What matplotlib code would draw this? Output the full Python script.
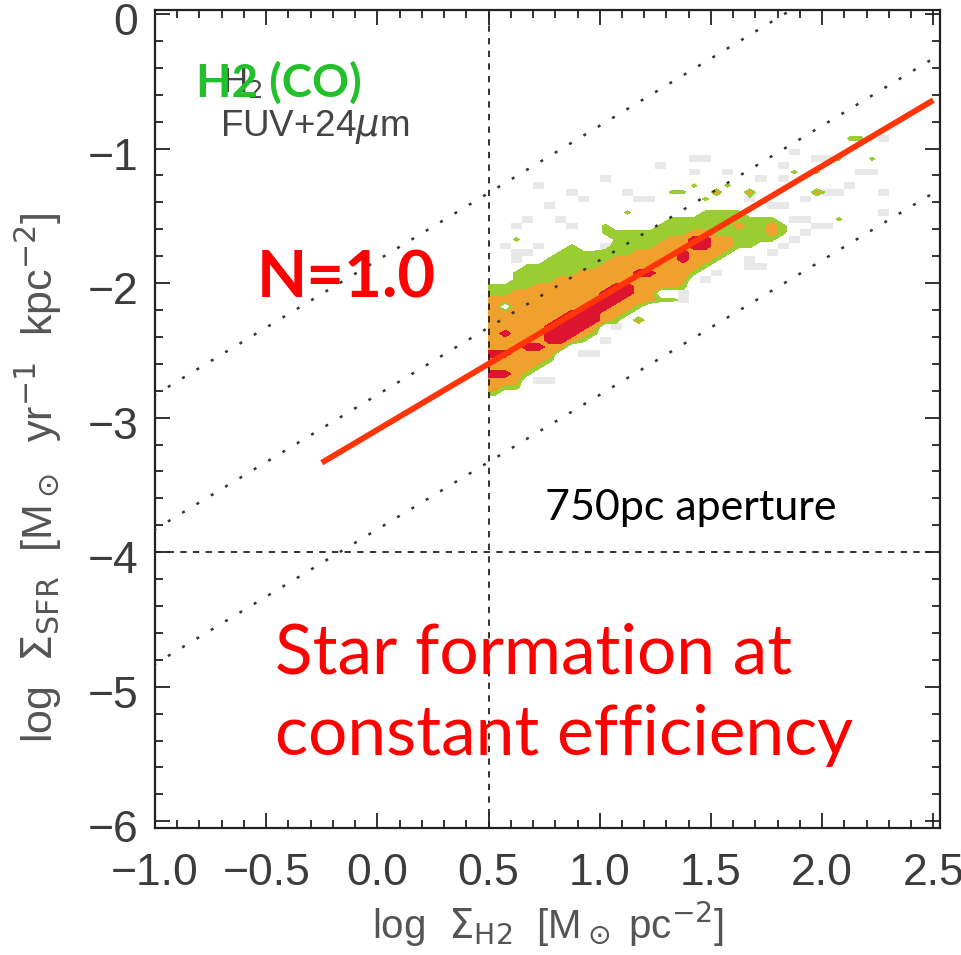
import numpy as np
import matplotlib
matplotlib.use("Agg")
import matplotlib.pyplot as plt
import matplotlib.transforms as mtrans
from matplotlib.colors import ListedColormap
from matplotlib.ticker import MultipleLocator, FuncFormatter
from matplotlib import font_manager

# pixel density map in 0.05 dex bins (top row first)
# '-' empty, 'x' few pixels (grey), 'g' green, 'o' orange, 'r' red contour
density_rows = [
    "------ ------ ------ ------ ------ ------",
    "------ ------ ------ ------ ------ --gg-x",
    "------ ------ ------ ------ ------ ------",
    "------ ------ ------ ------ ---x-- ------",
    "------ ------ ------ xx---- -----x xg--g-",
    "------ ------ ---x-- ------ --x--- ------",
    "------ ------ ------ x--x-- ---g-g ---xx-",
    "------ ----x- ------ ------ x-x--- ------",
    "----x- ------ ------ g--g-- ------ --x---",
    "------ -x---- x---gg --o--o -----o xx---x",
    "------ --x--- -xx--- -g---x ----x- ------",
    "-----x ------ ------ ------ -xx--- ------",
    "------ ------ g----- -gggg- ------ -----x",
    "---x-- x----- ----gg gggggg gg-xx- -g----",
    "--x--- -x--g- ---ggg ggggog gog--x x-----",
    "------ ----gg gggggg oogggg gog-x- ------",
    "--g--- -----g ggggoo rroogg gg-x-- ------",
    "-x--x- -g--xg gggooo rroogg --x--- ------",
    "--xx-- gggggg goooor ooog-- -x---- ------",
    "--x--g gggggo ooooor oog--x ------ ------",
    "---ggg ggggoo oooooo og---x x----- ------",
    "--gggg ggoooo orrooo g-x--- ------ ------",
    "--gggg oooooo oooooo -x---- ------ ------",
    "ggggoo ooooor roooog ------ ------ ------",
    "ggoooo oooorr roo--x ------ ------ ------",
    "oooooo oooorr oooggx ------ ------ ------",
    "o-oooo ooorro og---- ------ ------ ------",
    "oooooo orrroo g----- ------ ------ ------",
    "oooooo rrrrog -o---- ------ ------ ------",
    "ooooor rrro-x ------ ------ ------ ------",
    "orooor rrog-- ------ ------ ------ ------",
    "ooooor rog-x- ------ ------ ------ ------",
    "ooorro o----- ------ ------ ------ ------",
    "rroooo --xx-- ------ ------ ------ ------",
    "ooooog ------ ------ ------ ------ ------",
    "oooog- ------ ------ ------ ------ ------",
    "rrog-- ------ ------ ------ ------ ------",
    "ooo-xx ------ ------ ------ ------ ------",
    "ogg--- ------ ------ ------ ------ ------",
    "g----- ------ ------ ------ ------ ------",
    "------ ------ ------ ------ ------ ------",
]
level_of = {"-": 0, "x": 1, "g": 2, "o": 3, "r": 4}
x_first = 0.525   # centre of the first bin
y_first = -0.875
bin_size = 0.05

# lines of constant efficiency: log SFR = log Sigma + offset
eff_offsets = [-1.83, -2.83, -3.83]
# fitted relation, N = 1.0
fit_slope = 0.98
fit_intercept = -3.09
fit_x = [-0.25, 2.5]

names = {f.name for f in font_manager.fontManager.ttflist}
tick_font = "Liberation Sans Narrow" if "Liberation Sans Narrow" in names else "Liberation Sans"
text_font = "Lato" if "Lato" in names else "DejaVu Sans"

W, H = 962, 955
fig = plt.figure(figsize=(W / 100, H / 100), dpi=100)
ax = fig.add_axes([155 / W, 1 - 828 / H, (940 - 155) / W, (828 - 10) / H])

grid = np.array([[level_of[c] for c in r.replace(" ", "")] for r in density_rows], dtype=float)
ny, nx = grid.shape
xc = x_first + bin_size * np.arange(nx)
yc = y_first - bin_size * np.arange(ny)

# grey blocks: bins with only a few pixels
xe = np.append(xc - bin_size / 2, xc[-1] + bin_size / 2)
ye = np.append(yc + bin_size / 2, yc[-1] - bin_size / 2)
grey = np.ma.masked_where(grid != 1, grid)
ax.pcolormesh(xe, ye, grey, cmap=ListedColormap(["#e8e8e8"]), shading="flat", zorder=1)

# filled contours; first column repeated at x=0.5 so the map reaches the cut
z = np.hstack([grid[:, :1], grid, np.zeros((ny, 1))])
z = np.vstack([np.zeros((1, nx + 2)), z, np.zeros((1, nx + 2))])
xz = np.concatenate([[0.5], xc, [xc[-1] + bin_size]])
yz = np.concatenate([[yc[0] + bin_size], yc, [yc[-1] - bin_size]])
ax.contourf(xz, yz[::-1], z[::-1], levels=[1.5, 2.5, 3.5, 4.5],
            colors=["#9acd32", "#f0a02c", "#dc1430"], zorder=2)

xx = np.array([-1.2, 2.7])
for off in eff_offsets:
    ax.plot(xx, xx + off, color="#333333", lw=1.8, ls=(0, (1.2, 5.5)), zorder=3)
ax.axvline(0.5, color="#222222", lw=1.3, ls=(0, (3.5, 3.5)), zorder=3)
ax.axhline(-4.0, color="#222222", lw=1.3, ls=(0, (3.5, 3.5)), zorder=3)

fx = np.array(fit_x)
ax.plot(fx, fit_slope * fx + fit_intercept, color="#ff3408", lw=4.2,
        solid_capstyle="butt", zorder=4)

ax.set_xlim(-1.0, 2.53)
ax.set_ylim(-6.05, 0.03)
ax.xaxis.set_major_locator(MultipleLocator(0.5))
ax.xaxis.set_minor_locator(MultipleLocator(0.1))
ax.yaxis.set_major_locator(MultipleLocator(1))
ax.yaxis.set_minor_locator(MultipleLocator(0.2))
ax.xaxis.set_major_formatter(FuncFormatter(lambda v, p: f"{v:.1f}".replace("-", "\u2212")))
ax.yaxis.set_major_formatter(FuncFormatter(lambda v, p: f"{v:.0f}".replace("-", "\u2212")))
ax.tick_params(which="both", direction="in", top=True, right=True, color="#222222", width=1.3)
ax.tick_params(which="major", length=11)
ax.tick_params(which="minor", length=5.5)
ax.tick_params(axis="x", pad=18)
ax.tick_params(axis="y", pad=12)
for lab in ax.get_xticklabels() + ax.get_yticklabels():
    lab.set_fontfamily(tick_font)
    lab.set_fontsize(32)
    lab.set_color("#3c3c3c")
# y labels sit a little below their ticks, as in the original
shift = mtrans.ScaledTranslation(0, -5 / 100, fig.dpi_scale_trans)
for lab in ax.get_yticklabels():
    lab.set_transform(lab.get_transform() + shift)
for s in ax.spines.values():
    s.set_linewidth(1.6)
    s.set_color("#222222")

fig.text(548 / W, 1 - 924 / H, r"log  $\Sigma_{\rm H2}$  [M$_\odot$ pc$^{-2}$]",
         ha="center", va="center", fontsize=29, color="#555555", family=tick_font)
fig.text(38 / W, 1 - 478 / H,
         r"log  $\Sigma_{\rm SFR}$  [M$_\odot$  yr$^{-1}$  kpc$^{-2}$]",
         ha="center", va="center", rotation=90, fontsize=31, color="#555555", family=tick_font)

fig.text(222 / W, 1 - 92 / H, r"H$_2$", fontsize=25, color="#444444", family=tick_font)
fig.text(220 / W, 1 - 136 / H, r"FUV+24$\mu$m", fontsize=26.5, color="#444444", family=tick_font)
fig.text(196 / W, 1 - 97 / H, "H2 (CO)", fontsize=33, fontweight="bold",
         color="#22c02a", family=text_font)
fig.text(257 / W, 1 - 298 / H, "N=1.0", fontsize=47, fontweight="bold",
         color="#ff0000", family=text_font)
fig.text(545 / W, 1 - 520 / H, "750pc aperture", fontsize=31, color="black", family=text_font)
fig.text(275 / W, 1 - 673 / H, "Star formation at", fontsize=50, color="#ff0000", family=text_font)
fig.text(275 / W, 1 - 755 / H, "constant efficiency", fontsize=50, color="#ff0000", family=text_font)

fig.savefig("out.png", dpi=100)
